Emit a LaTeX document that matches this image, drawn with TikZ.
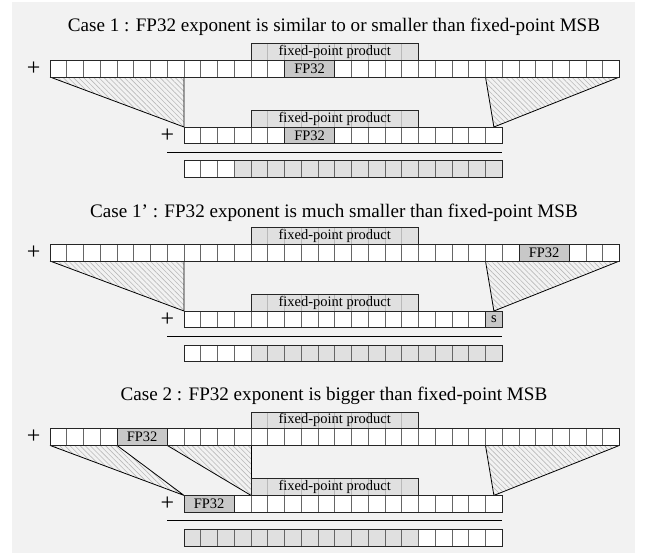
\documentclass[tikz,border=0pt]{standalone}
\usepackage{fontspec}
\setmainfont{Liberation Serif}
\usetikzlibrary{patterns.meta}
\definecolor{bgc}{HTML}{F2F2F2}
\definecolor{lightg}{HTML}{E0E0E0}
\definecolor{darkg}{HTML}{C8C8C8}
\def\X{50}
\def\W{16.75}
\def\H{16.7}
% bit row: #1 first index, #2 last index, #3 top y, #4 fill
\newcommand\bitrow[4]{%
  \foreach \i in {#1,...,#2}{\draw[celldiv,fill=#4] ({\X+\W*\i},#3) rectangle ++(\W,\H);}%
}
\newcommand\rowframe[3]{%
  \draw[rowedge] ({\X+\W*#1},#3) rectangle ({\X+\W*(#2+1)},#3+\H);%
}
% fixed-point product box above row whose top is #1; #2 node name
\newcommand\fpbox[2]{%
  \fill[lightg] (251,#1-\H) rectangle (418.5,#1);
  \foreach \i in {13,...,21}{\draw[gray!55,line width=0.6pt] ({\X+\W*\i},#1-\H) -- ({\X+\W*\i},#1);}
  \draw[rowedge] (251,#1) -- (251,#1-\H) -- (418.5,#1-\H) -- (418.5,#1);
  \node[lbl] (#2) at (334.75,#1-\H/2) {fixed-point product};%
}
% value box: #1 first index, #2 number of cells, #3 top y, #4 name, #5 text
\newcommand\valbox[5]{%
  \draw[rowedge,fill=darkg] ({\X+\W*#1},#3) rectangle ({\X+\W*(#1+#2)},#3+\H);
  \node[lbl] (#4) at ({\X+\W*(#1+#2/2)},#3+\H/2) {#5};%
}
\begin{document}
\begin{tikzpicture}[x=1pt,y=-1pt,
  celldiv/.style={draw=gray!80!black,line width=0.7pt},
  rowedge/.style={draw=black!85,line width=0.8pt},
  edgeline/.style={draw=black,line width=0.8pt},
  hatch/.style={pattern={Lines[angle=-45,distance=3.6pt,line width=0.6pt]},pattern color=gray!55},
  lbl/.style={font=\fontsize{14.5}{16}\selectfont,inner sep=0pt},
  ttl/.style={font=\fontsize{19.1}{22}\selectfont,anchor=base,inner sep=0pt},
  plussign/.style={font=\fontsize{24}{26}\selectfont,inner sep=0pt},
  rule/.style={draw=black,line width=1.2pt}]
\useasboundingbox (0,0) rectangle (646,554);
\fill[bgc] (12,2) rectangle (635,553);

% ---------------- Case 1 ----------------
\def\T{60.3}
\node[ttl] (t1) at (334,\T-28.6) {Case 1 : FP32 exponent is similar to or smaller than fixed-point MSB};
\coordinate (a1) at (50,\T+\H); \coordinate (b1) at (184,\T+\H); \coordinate (c1) at (184,\T+66.7);
\coordinate (d1) at (485.5,\T+\H); \coordinate (e1) at (619.5,\T+\H); \coordinate (f1) at (493.9,\T+66.7);
\fill[hatch] (a1) -- (b1) -- (c1) -- cycle;
\fill[hatch] (d1) -- (e1) -- (f1) -- cycle;
\draw[edgeline] (a1) -- (c1) -- (b1);
\draw[edgeline] (d1) -- (f1) -- (e1);
\fpbox{\T}{fp1a}
\bitrow{0}{33}{\T}{white}
\rowframe{0}{33}{\T}
\valbox{14}{3}{\T}{v1a}{FP32}
\node[plussign] (p1a) at (33.7,\T+\H/2) {+};
\fpbox{\T+66.7}{fp1b}
\bitrow{8}{26}{\T+66.7}{white}
\rowframe{8}{26}{\T+66.7}
\valbox{14}{3}{\T+66.7}{v1b}{FP32}
\node[plussign] (p1b) at (167.5,\T+66.7+\H/2) {+};
\coordinate (r1a) at (167.25,\T+92); \coordinate (r1b) at (502.25,\T+92);
\draw[rule] (r1a) -- (r1b);
\bitrow{8}{10}{\T+100.4}{white}
\bitrow{11}{26}{\T+100.4}{lightg}
\rowframe{8}{26}{\T+100.4}

% ---------------- Case 1' ----------------
\def\T{244.3}
\node[ttl] (t2) at (334,\T-27.3) {Case 1’ : FP32 exponent is much smaller than fixed-point MSB};
\coordinate (a2) at (50,\T+\H); \coordinate (b2) at (184,\T+\H); \coordinate (c2) at (184,\T+66.7);
\coordinate (d2) at (485.5,\T+\H); \coordinate (e2) at (619.5,\T+\H); \coordinate (f2) at (493.9,\T+66.7);
\fill[hatch] (a2) -- (b2) -- (c2) -- cycle;
\fill[hatch] (d2) -- (e2) -- (f2) -- cycle;
\draw[edgeline] (a2) -- (c2) -- (b2);
\draw[edgeline] (d2) -- (f2) -- (e2);
\fpbox{\T}{fp2a}
\bitrow{0}{33}{\T}{white}
\rowframe{0}{33}{\T}
\valbox{28}{3}{\T}{v2a}{FP32}
\node[plussign] (p2a) at (33.7,\T+\H/2) {+};
\fpbox{\T+66.7}{fp2b}
\bitrow{8}{26}{\T+66.7}{white}
\rowframe{8}{26}{\T+66.7}
\valbox{26}{1}{\T+66.7}{v2b}{s}
\node[plussign] (p2b) at (167.5,\T+66.7+\H/2) {+};
\coordinate (r2a) at (167.25,\T+91.8); \coordinate (r2b) at (502.25,\T+91.8);
\draw[rule] (r2a) -- (r2b);
\bitrow{8}{11}{\T+100.6}{white}
\bitrow{12}{26}{\T+100.6}{lightg}
\rowframe{8}{26}{\T+100.6}

% ---------------- Case 2 ----------------
\def\T{428.7}
\node[ttl] (t3) at (334,\T-28) {Case 2 : FP32 exponent is bigger than fixed-point MSB};
\coordinate (a3) at (50,\T+\H); \coordinate (b3) at (117,\T+\H); \coordinate (c3) at (184,\T+66.7);
\coordinate (g3) at (167.25,\T+\H); \coordinate (h3) at (251,\T+\H); \coordinate (k3) at (251,\T+50);
\coordinate (d3) at (485.5,\T+\H); \coordinate (e3) at (619.5,\T+\H); \coordinate (f3) at (493.9,\T+66.7);
\fill[hatch] (a3) -- (b3) -- (c3) -- cycle;
\fill[hatch] (g3) -- (h3) -- (251,\T+66.7) -- cycle;
\fill[hatch] (d3) -- (e3) -- (f3) -- cycle;
\draw[edgeline] (a3) -- (c3) -- (b3);
\draw[edgeline] (g3) -- (251,\T+66.7);
\draw[edgeline] (h3) -- (k3);
\draw[edgeline] (d3) -- (f3) -- (e3);
\fpbox{\T}{fp3a}
\bitrow{0}{33}{\T}{white}
\rowframe{0}{33}{\T}
\valbox{4}{3}{\T}{v3a}{FP32}
\node[plussign] (p3a) at (33.7,\T+\H/2) {+};
\fpbox{\T+66.7}{fp3b}
\bitrow{8}{26}{\T+66.7}{white}
\rowframe{8}{26}{\T+66.7}
\valbox{8}{3}{\T+66.7}{v3b}{FP32}
\node[plussign] (p3b) at (167.5,\T+66.7+\H/2) {+};
\coordinate (r3a) at (167.25,\T+92); \coordinate (r3b) at (502.25,\T+92);
\draw[rule] (r3a) -- (r3b);
\bitrow{8}{21}{\T+100.6}{lightg}
\bitrow{22}{26}{\T+100.6}{white}
\rowframe{8}{26}{\T+100.6}
\end{tikzpicture}
\end{document}
